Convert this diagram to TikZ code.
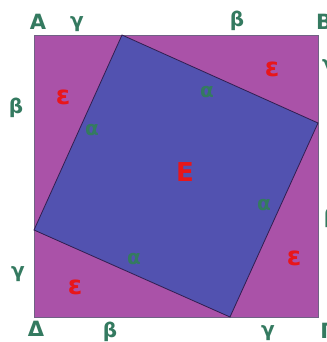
\documentclass[tikz,border=0pt]{standalone}
\usepackage{fontspec}
\setmainfont{DejaVu Sans}
\definecolor{purp}{RGB}{170,82,168}
\definecolor{blu}{RGB}{82,82,176}
\definecolor{grn}{RGB}{52,122,96}
\definecolor{rd}{RGB}{232,22,26}
\definecolor{edge}{RGB}{50,30,80}
\begin{document}
\begin{tikzpicture}[x=1pt,y=-1pt,
  vert/.style={text=grn,font=\bfseries\fontsize{21}{21}\selectfont,inner sep=0pt},
  side/.style={text=grn,font=\bfseries\fontsize{20}{20}\selectfont,inner sep=0pt},
  alab/.style={text=grn,font=\bfseries\fontsize{20}{20}\selectfont,inner sep=0pt},
  elab/.style={text=rd,font=\bfseries\fontsize{26}{26}\selectfont,inner sep=0pt},
  Elab/.style={text=rd,font=\bfseries\fontsize{26}{26}\selectfont,inner sep=0pt}]
\useasboundingbox (0,0) rectangle (326,342);
\clip (0,0) rectangle (326,342);
\fill[white] (0,0) rectangle (326,342);
% outer square
\coordinate (A) at (34,35);
\coordinate (B) at (318,35);
\coordinate (G) at (318,317);
\coordinate (D) at (34,317);
\coordinate (P) at (122,35);
\coordinate (Q) at (318,123);
\coordinate (R) at (230,317);
\coordinate (S) at (34,230);
\filldraw[fill=purp,draw=edge!70,line width=0.6pt] (A) -- (B) -- (G) -- (D) -- cycle;
\filldraw[fill=blu,draw=edge,line width=0.8pt] (P) -- (Q) -- (R) -- (S) -- cycle;
% vertex labels
\node[vert] (lA) at (38,22) {Α};
\node[vert] (lB) at (324,22) {Β};
\node[vert] (lG) at (327,331) {Γ};
\node[vert] (lD) at (36,329) {Δ};
% side labels
\node[side] (g1) at (77,24) {γ};
\node[side] (b1) at (237,21) {β};
\node[side] (g2) at (329,67) {γ};
\node[side] (b2) at (331,218) {β};
\node[side] (g3) at (268,333) {γ};
\node[side] (b3) at (110,332) {β};
\node[side] (g4) at (18,274) {γ};
\node[side] (b4) at (16,108) {β};
% alpha labels
\node[alab] (a1) at (207,92) {α};
\node[alab] (a2) at (92,130) {α};
\node[alab] (a3) at (264,205) {α};
\node[alab] (a4) at (134,259) {α};
% epsilon labels
\node[elab] (e1) at (63,97) {ε};
\node[elab] (e2) at (272,69) {ε};
\node[elab] (e3) at (294,258) {ε};
\node[elab] (e4) at (75,287) {ε};
\node[Elab] (E) at (185,172) {Ε};
\end{tikzpicture}
\end{document}
